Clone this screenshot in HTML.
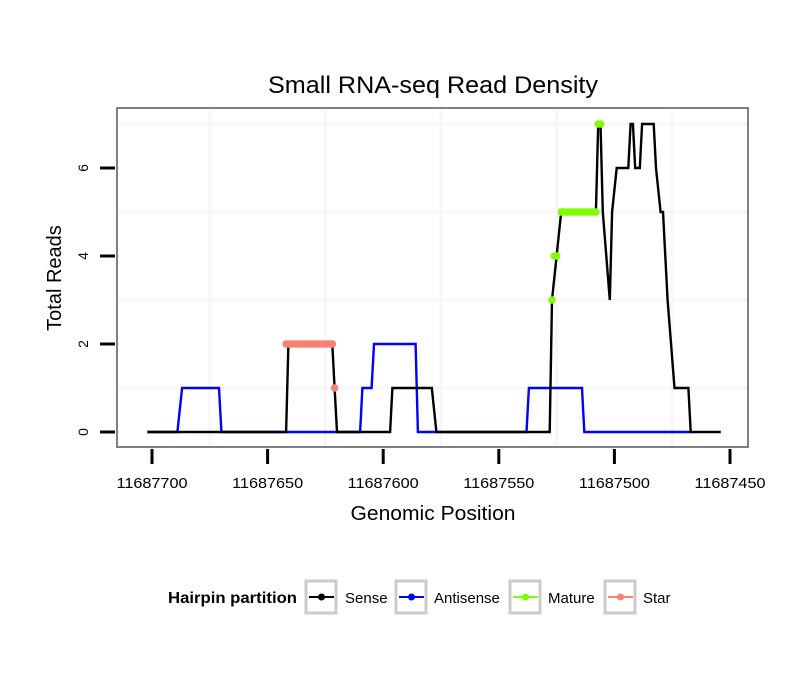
<!DOCTYPE html>
<html><head><meta charset="utf-8"><style>
body{margin:0;background:#fff;}
svg text{font-family:"Liberation Sans",Arial,sans-serif;}
</style></head><body>
<svg id="chart" width="810" height="690" xmlns="http://www.w3.org/2000/svg">
<rect width="810" height="690" fill="#fff"/>
<text x="433" y="93" font-size="24" text-anchor="middle" textLength="330" lengthAdjust="spacingAndGlyphs">Small RNA-seq Read Density</text>
<g id="grid"></g>
<g id="series"></g>
<rect x="117" y="108" width="631" height="339" fill="none" stroke="#808080" stroke-width="2"/>
<g id="axes"></g>
<text x="433" y="520" font-size="20" text-anchor="middle" textLength="165" lengthAdjust="spacingAndGlyphs">Genomic Position</text>
<text transform="translate(61,278) rotate(-90)" font-size="20" text-anchor="middle">Total Reads</text>
<g id="legend">
<text x="168" y="603" font-size="16" font-weight="bold" textLength="129" lengthAdjust="spacingAndGlyphs">Hairpin partition</text>
</g>
</svg>
<script>
const xTicks=[11687700,11687650,11687600,11687550,11687500,11687450];
const xTickLabels=["11687700","11687650","11687600","11687550","11687500","11687450"];
const yTicks=[0,2,4,6];
const yTickLabels=["0","2","4","6"];
const sensePos=[11687702,11687642,11687641,11687622,11687621,11687620,11687597,11687596,11687579,11687577,11687528,11687527,11687525,11687523,11687508,11687507,11687506,11687505,11687502,11687501,11687499,11687494,11687493,11687492,11687491,11687489,11687488,11687483,11687482,11687480,11687479,11687477,11687474,11687468,11687467,11687454];
const senseVal=[0,0,2,2,1,0,0,1,1,0,0,3,4,5,5,7,7,5,3,5,6,6,7,7,6,6,7,7,6,5,5,3,1,1,0,0];
const antiPos=[11687702,11687689,11687687,11687671,11687670,11687610,11687609,11687605,11687604,11687586,11687585,11687538,11687537,11687514,11687513,11687467];
const antiVal=[0,0,1,1,0,0,1,1,2,2,0,0,1,1,0,0];
const maturePos=[11687527,11687526,11687525,11687523,11687522,11687521,11687520,11687519,11687518,11687517,11687516,11687515,11687514,11687513,11687512,11687511,11687510,11687509,11687508,11687507,11687506];
const matureVal=[3,4,4,5,5,5,5,5,5,5,5,5,5,5,5,5,5,5,5,7,7];
const starPos=[11687642,11687641,11687640,11687639,11687638,11687637,11687636,11687635,11687634,11687633,11687632,11687631,11687630,11687629,11687628,11687627,11687626,11687625,11687624,11687623,11687622,11687621];
const starVal=[2,2,2,2,2,2,2,2,2,2,2,2,2,2,2,2,2,2,2,2,2,1];
const legendLabels=["Sense","Antisense","Mature","Star"];
const legendColors=["#000000","#0000ff","#7fff00","#fa8072"];

const NS="http://www.w3.org/2000/svg";
function X(v){return 152+(11687700-v)*2.312;}
function Y(v){return 432-v*44;}
function mk(tag,attrs,parent){const e=document.createElementNS(NS,tag);for(const k in attrs)e.setAttribute(k,attrs[k]);parent.appendChild(e);return e;}
const grid=document.getElementById('grid'),axes=document.getElementById('axes'),ser=document.getElementById('series'),leg=document.getElementById('legend');
mk('rect',{x:117,y:108,width:631,height:339,fill:'#fff'},grid);
for(let i=0;i<xTicks.length-1;i++){const xm=(X(xTicks[i])+X(xTicks[i+1]))/2;const l=mk('line',{x1:xm,x2:xm,y1:108,y2:447,stroke:'#f7f7f7','stroke-width':3},grid);

}
for(let i=0;i<yTicks.length;i++){const ym=Y(yTicks[i]+1);const l=mk('line',{x1:117,x2:748,y1:ym,y2:ym,stroke:'#f7f7f7','stroke-width':3},grid);

}
xTicks.forEach((t,i)=>{const x=X(t);
const tk=mk('line',{x1:x,x2:x,y1:449,y2:464,stroke:'#000','stroke-width':3},axes);


const tx=mk('text',{x:x,y:488,'font-size':15,'text-anchor':'middle',textLength:71,lengthAdjust:'spacingAndGlyphs'},axes);tx.textContent=xTickLabels[i];

});
yTicks.forEach((t,i)=>{const y=Y(t);
const tk=mk('line',{x1:100,x2:115,y1:y,y2:y,stroke:'#000','stroke-width':3},axes);


const tx=mk('text',{transform:`translate(88,${y}) rotate(-90)`,'font-size':14,'text-anchor':'middle'},axes);tx.textContent=yTickLabels[i];

});
function line(pos,val,color,name){const d=pos.map((p,i)=>(i?'L':'M')+X(p).toFixed(1)+','+Y(val[i]).toFixed(1)).join(' ');
const p=mk('path',{d:d,fill:'none',stroke:color,'stroke-width':2.4,'stroke-linejoin':'miter'},ser);

}
function pts(pos,val,color,name){pos.forEach((p,i)=>{const c=mk('circle',{cx:X(p),cy:Y(val[i]),r:3.8,fill:color},ser);

});}
line(antiPos,antiVal,'#0000ff','antisense-line');
line(sensePos,senseVal,'#000000','sense-line');
pts(maturePos,matureVal,'#7fff00','mature-point');
pts(starPos,starVal,'#fa8072','star-point');
const boxX=[305,395,509,604],textX=[345,434,548,643];
legendLabels.forEach((lab,i)=>{
const b=mk('rect',{x:boxX[i]+1,y:581,width:30,height:32,fill:'#fff',stroke:'#cccccc','stroke-width':3},leg);


mk('line',{x1:boxX[i]+4,x2:boxX[i]+29,y1:597,y2:597,stroke:legendColors[i],'stroke-width':2},leg);
mk('circle',{cx:boxX[i]+16.5,cy:597,r:3.5,fill:legendColors[i]},leg);
const t=mk('text',{x:textX[i],y:603,'font-size':15},leg);t.textContent=lab;

});
</script>
</body></html>
